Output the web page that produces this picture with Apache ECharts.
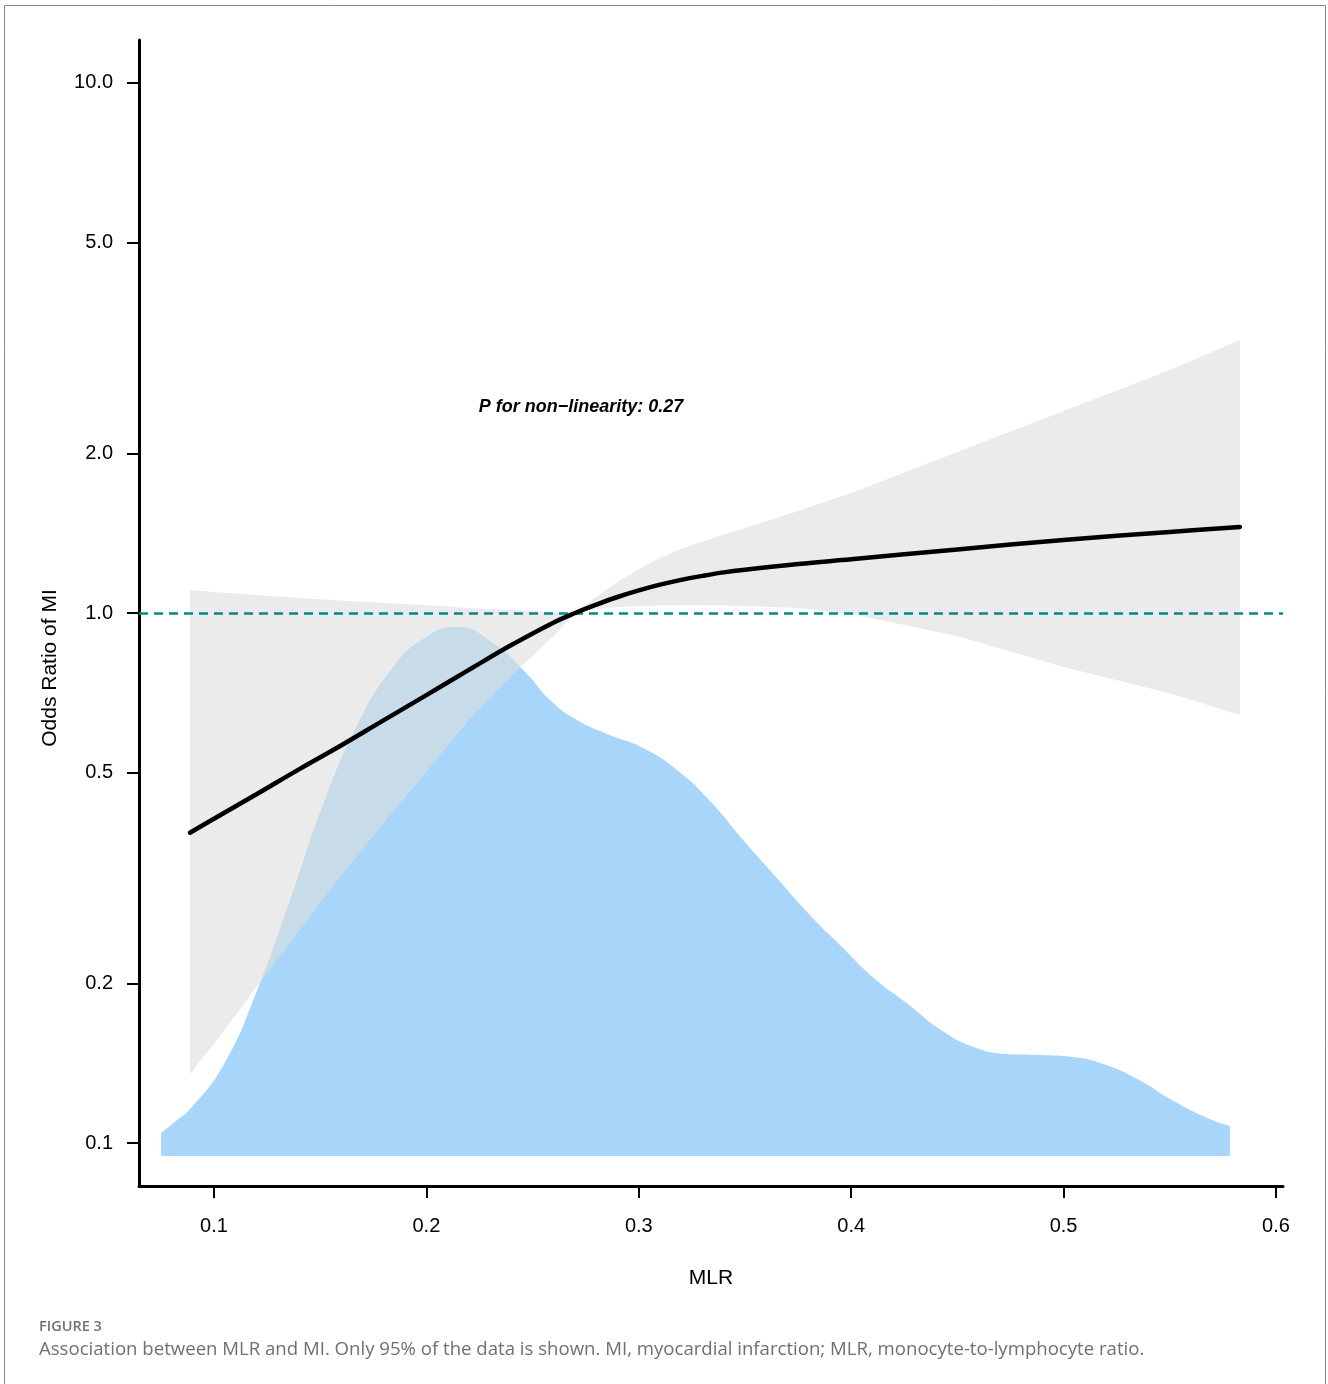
<!DOCTYPE html>
<html><head><meta charset="utf-8">
<script src="https://cdn.jsdelivr.net/npm/echarts@6/dist/echarts.min.js"></script>
<style>html,body{margin:0;padding:0;background:#fff}#c{width:1328px;height:1384px}</style>
</head><body><div id="c"></div>
<script>
// MLR grid for the fitted spline and its 95% CI (odds ratios)
const mlrGrid = [0.0887, 0.10, 0.12, 0.14, 0.16, 0.18, 0.20, 0.22, 0.24, 0.26, 0.27, 0.28, 0.29, 0.30, 0.31, 0.32, 0.33, 0.34, 0.35, 0.375, 0.40, 0.45, 0.50, 0.55, 0.583];
const orFit   = [0.385, 0.409, 0.455, 0.507, 0.563, 0.628, 0.700, 0.781, 0.870, 0.960, 1.000, 1.037, 1.072, 1.103, 1.131, 1.155, 1.175, 1.193, 1.207, 1.237, 1.263, 1.318, 1.373, 1.422, 1.453];
const orUpper = [1.105, 1.096, 1.081, 1.067, 1.056, 1.044, 1.035, 1.022, 1.013, 1.004, 1.000, 1.072, 1.144, 1.211, 1.270, 1.321, 1.364, 1.407, 1.447, 1.558, 1.685, 2.013, 2.405, 2.874, 3.274];
const orLower = [0.135, 0.154, 0.197, 0.251, 0.320, 0.402, 0.501, 0.628, 0.761, 0.905, 1.000, 1.018, 1.026, 1.031, 1.033, 1.035, 1.035, 1.033, 1.031, 1.022, 0.996, 0.905, 0.791, 0.706, 0.642];

// MLR distribution (density)
const densityX = [0.0751, 0.0821, 0.0887, 0.1042, 0.1202, 0.1358, 0.1513, 0.1673, 0.1829, 0.1984, 0.2144, 0.2314, 0.2474, 0.2582, 0.2709, 0.2864, 0.3020, 0.3180, 0.3335, 0.3491, 0.3646, 0.3801, 0.3957, 0.4112, 0.4267, 0.4423, 0.4578, 0.4734, 0.4889, 0.5044, 0.5200, 0.5355, 0.5510, 0.5666, 0.5783];
const densityY = [0.23, 0.35, 0.47, 0.90, 1.65, 2.56, 3.51, 4.30, 4.85, 5.17, 5.29, 5.13, 4.82, 4.56, 4.36, 4.21, 4.08, 3.86, 3.55, 3.16, 2.79, 2.42, 2.09, 1.77, 1.52, 1.26, 1.09, 1.02, 1.01, 0.99, 0.91, 0.76, 0.56, 0.39, 0.30];

const xTicks = [0.1, 0.2, 0.3, 0.4, 0.5, 0.6];
const yTicks = [0.1, 0.2, 0.5, 1.0, 2.0, 5.0, 10.0];
const refOR = 1.0;
const annotation = 'P for non\u2212linearity: 0.27';
const xTitle = 'MLR';
const yTitle = 'Odds Ratio of MI';
const figLabel = 'FIGURE 3';
const caption = 'Association between MLR and MI. Only 95% of the data is shown. MI, myocardial infarction; MLR, monocyte-to-lymphocyte ratio.';

const L = Math.log10;
const FONT = '"Liberation Sans", Arial, sans-serif';
const CAPFONT = '"Open Sans", Lato, sans-serif';

const chart = echarts.init(document.getElementById('c'), null, {renderer: 'canvas'});
chart.setOption({
  animation: false,
  backgroundColor: '#fff',
  grid: {left: 139, right: 45, top: 40, bottom: 198, containLabel: false},
  xAxis: {
    type: 'value', min: 0.0647, max: 0.6033,
    name: xTitle, nameLocation: 'middle', nameGap: 82,
    nameTextStyle: {fontSize: 21, fontFamily: FONT, color: '#000'},
    axisLine: {show: true, onZero: false, lineStyle: {color: '#000', width: 3}},
    axisTick: {show: true, length: 12, lineStyle: {color: '#000', width: 2}, customValues: xTicks},
    axisLabel: {fontSize: 20, fontFamily: FONT, color: '#000', margin: 30, customValues: xTicks,
      formatter: v => Number(v).toFixed(1)},
    splitLine: {show: false}
  },
  yAxis: [{
    type: 'value', min: -1.0811, max: 1.0811,
    name: yTitle, nameLocation: 'middle', nameGap: 78, nameRotate: 90,
    nameTextStyle: {fontSize: 21, fontFamily: FONT, color: '#000', padding: [0, 110, 0, 0]},
    axisLine: {show: true, onZero: false, lineStyle: {color: '#000', width: 3}},
    axisTick: {show: true, length: 12, lineStyle: {color: '#000', width: 2}, customValues: yTicks.map(L)},
    axisLabel: {fontSize: 20, fontFamily: FONT, color: '#000', margin: 26, customValues: yTicks.map(L),
      formatter: v => Math.pow(10, v).toFixed(1)},
    splitLine: {show: false}
  }, {
    type: 'value', min: -0.3, max: 11.16, show: false,
    splitLine: {show: false}
  }],
  series: [
    {
      name: 'density', type: 'line', xAxisIndex: 0, yAxisIndex: 1,
      data: densityX.map((x, i) => [x, densityY[i]]),
      smooth: 0.5, symbol: 'none', z: 1,
      lineStyle: {width: 0, opacity: 0},
      areaStyle: {color: '#A8D6FB', opacity: 1}
    },
    {
      name: 'ci', type: 'custom', xAxisIndex: 0, yAxisIndex: 0, z: 2,
      data: [[mlrGrid[0], 0]],
      renderItem: function (params, api) {
        const pts = [];
        for (let i = 0; i < mlrGrid.length; i++) pts.push(api.coord([mlrGrid[i], L(orUpper[i])]));
        for (let i = mlrGrid.length - 1; i >= 0; i--) pts.push(api.coord([mlrGrid[i], L(orLower[i])]));
        return {type: 'polygon', shape: {points: pts}, style: {fill: 'rgba(222,222,222,0.6)', stroke: null}};
      },
      silent: true
    },
    {
      name: 'ref', type: 'line', xAxisIndex: 0, yAxisIndex: 0, data: [], z: 3,
      markLine: {
        silent: true, symbol: 'none', z: 3, label: {show: false},
        lineStyle: {color: '#008B8B', type: [9, 6], width: 2.5},
        data: [{yAxis: L(refOR)}]
      }
    },
    {
      name: 'fit', type: 'line', xAxisIndex: 0, yAxisIndex: 0, z: 10,
      data: mlrGrid.map((x, i) => [x, L(orFit[i])]),
      smooth: 0.4, symbol: 'none',
      lineStyle: {color: '#000', width: 4.5, cap: 'round'}
    }
  ],
  graphic: [
    {type: 'rect', silent: true, z: -10,
      shape: {x: 4.5, y: 5.5, width: 1321, height: 1420},
      style: {fill: 'none', stroke: '#8a8a8a', lineWidth: 1}},
    {type: 'text', x: 581, y: 407, z: 20,
      style: {text: annotation, font: 'italic bold 18px ' + FONT, fill: '#000', align: 'center', verticalAlign: 'middle'}},
    {type: 'text', x: 39, y: 1327, z: 20,
      style: {text: figLabel, font: '600 14.5px ' + CAPFONT, fill: '#727272', align: 'left', verticalAlign: 'middle'}},
    {type: 'text', x: 39, y: 1350, z: 20,
      style: {text: caption, font: '18.6px ' + CAPFONT, fill: '#707070', align: 'left', verticalAlign: 'middle'}}
  ]
});
</script>
</body></html>
